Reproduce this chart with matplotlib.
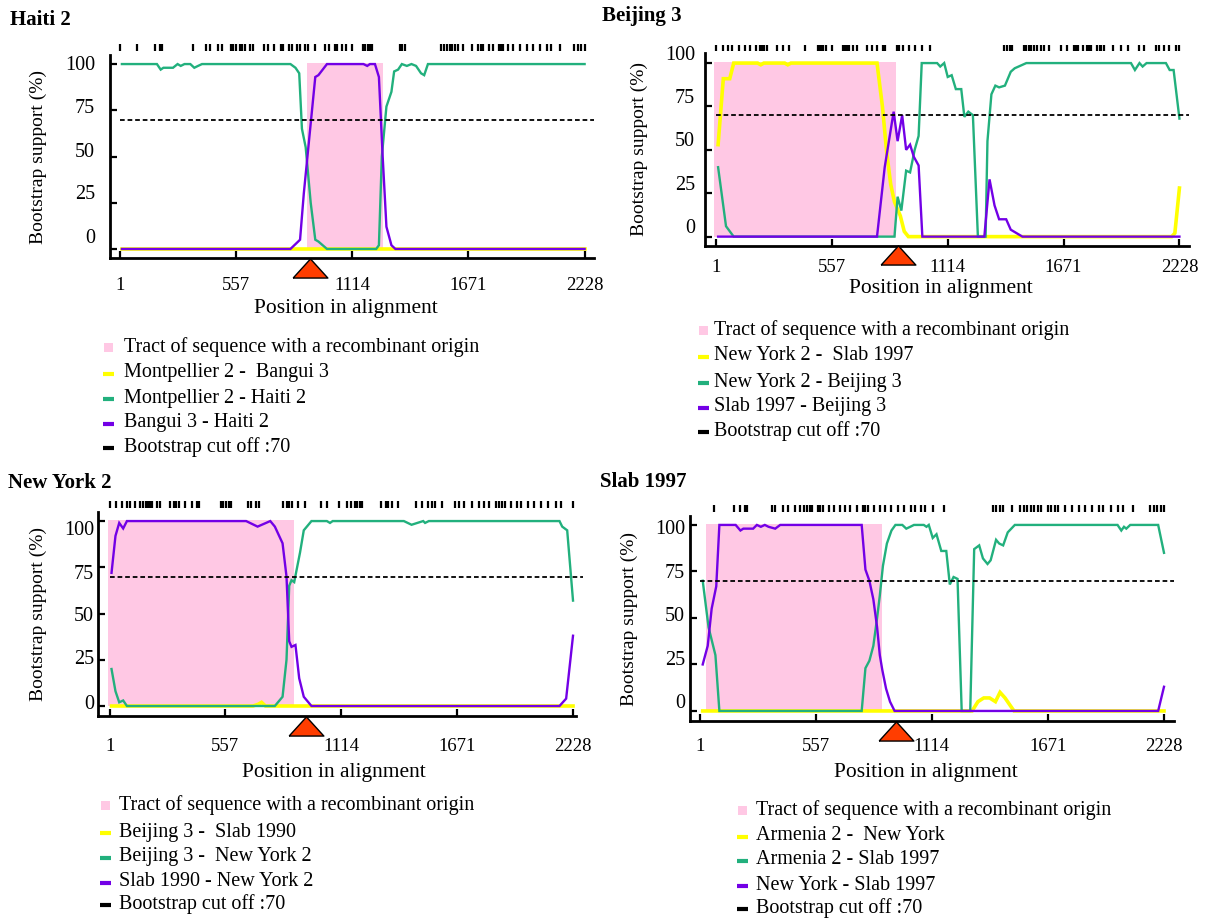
import matplotlib
matplotlib.use("Agg")
import matplotlib.pyplot as plt
from matplotlib.lines import Line2D
from matplotlib.patches import Rectangle

plt.rcParams["font.family"] = ["Liberation Serif", "DejaVu Serif"]

# ---------------- data ----------------
x_ticks = [1, 557, 1114, 1671, 2228]
y_ticks = [0, 25, 50, 75, 100]
cutoff = 70

# Haiti 2
haiti_sites = [1, 81, 168, 192, 204, 351, 413, 433, 470, 490, 531, 544, 557, 577, 588,
               601, 626, 639, 691, 711, 740, 773, 784, 809, 825, 851, 863, 890, 904, 936,
               985, 1002, 1031, 1042, 1067, 1083, 1113, 1165, 1173, 1190, 1201, 1211, 1345,
               1353, 1365, 1541, 1554, 1566, 1582, 1594, 1607, 1620, 1647, 1688, 1718, 1729,
               1741, 1770, 1790, 1816, 1827, 1839, 1860, 1884, 1920, 1950, 1979, 2015, 2048,
               2068, 2110, 2179, 2198, 2211, 2228]
haiti_tract = [895, 1263]
haiti_yellow_x = [10, 2228]
haiti_yellow = [0, 0]
haiti_green_x = [10, 178, 196, 209, 255, 277, 292, 310, 338, 357, 375, 394, 818, 842, 860,
                 873, 891, 915, 937, 952, 993, 1229, 1242, 1256, 1278, 1302, 1315, 1334,
                 1352, 1376, 1398, 1420, 1444, 1459, 1477, 2228]
haiti_green = [100, 100, 97, 98, 98, 100, 99, 100, 100, 98, 99, 100, 100, 98, 95, 65, 55,
               25, 5, 4, 0, 0, 2, 50, 77, 85, 96, 97, 100, 99, 100, 99, 95, 94, 100, 100]
haiti_purple_x = [10, 818, 855, 864, 882, 937, 952, 993, 1168, 1186, 1199, 1223, 1242,
                  1260, 1278, 1302, 1321, 2228]
haiti_purple = [0, 0, 4, 5, 30, 93, 94, 100, 100, 99, 100, 100, 93, 50, 12, 2, 0, 0]
haiti_labels = ["Montpellier 2 -  Bangui 3", "Montpellier 2 - Haiti 2",
                "Bangui 3 - Haiti 2"]

# Beijing 3
beijing_sites = [1, 33, 57, 77, 109, 138, 165, 191, 213, 221, 229, 245, 294, 323, 350,
                 427, 488, 496, 504, 516, 528, 556, 612, 620, 628, 641, 660, 676, 725,
                 749, 773, 802, 813, 869, 882, 901, 930, 958, 990, 1030, 1384, 1400, 1413,
                 1424, 1480, 1491, 1504, 1516, 1529, 1545, 1561, 1577, 1601, 1657, 1689,
                 1722, 1730, 1738, 1762, 1783, 1793, 1802, 1834, 1844, 1850, 1866, 1907,
                 1947, 1979, 2035, 2059, 2116, 2132, 2156, 2180, 2212, 2228]
beijing_tract = [-8, 864]
beijing_yellow_x = [10, 35, 48, 66, 85, 200, 215, 230, 330, 345, 360, 774, 800, 821, 840,
                    858, 886, 905, 925, 2191, 2206, 2228]
beijing_yellow = [53, 91, 91, 91, 100, 100, 99, 100, 100, 99, 100, 100, 75, 48, 30, 20,
                  12, 3, 0, 0, 2, 28]
beijing_green_x = [10, 48, 85, 858, 873, 891, 914, 933, 955, 974, 989, 1063, 1078, 1097,
                   1114, 1133, 1153, 1179, 1194, 1213, 1235, 1259, 1296, 1305, 1324, 1343,
                   1361, 1389, 1417, 1436, 1492, 1995, 2014, 2036, 2051, 2070, 2163, 2181,
                   2200, 2228]
beijing_green = [40, 6, 0, 0, 23, 15, 38, 37, 50, 58, 100, 100, 98, 100, 92, 93, 85, 85,
                 69, 72, 70, 0, 0, 55, 82, 87, 86, 87, 95, 97, 100, 100, 96, 100, 98, 100,
                 100, 96, 96, 68]
beijing_purple_x = [10, 774, 811, 854, 873, 895, 914, 933, 951, 974, 992, 1290, 1315, 1339,
                    1361, 1395, 1417, 1445, 1473, 2228]
beijing_purple = [0, 0, 40, 72, 55, 70, 50, 53, 46, 41, 0, 0, 33, 18, 10, 10, 4, 2, 0, 0]
beijing_labels = ["New York 2 -  Slab 1997", "New York 2 - Beijing 3",
                  "Slab 1997 - Beijing 3"]

# New York 2
newyork_sites = [1, 33, 61, 82, 98, 122, 147, 163, 174, 184, 195, 203, 228, 244, 293, 309,
                 320, 333, 365, 398, 422, 430, 536, 547, 560, 573, 584, 665, 681, 702,
                 719, 835, 852, 863, 876, 908, 941, 1017, 1046, 1103, 1143, 1159, 1179,
                 1192, 1205, 1216, 1305, 1329, 1341, 1357, 1386, 1475, 1500, 1532, 1548,
                 1564, 1597, 1662, 1678, 1702, 1743, 1775, 1799, 1823, 1859, 1872, 1888,
                 1901, 1929, 1961, 1977, 2010, 2042, 2075, 2107, 2148, 2172, 2228]
newyork_tract = [-9, 887]
newyork_yellow_x = [10, 690, 716, 731, 750, 2228]
newyork_yellow = [0, 0, 1, 2, 0, 0]
newyork_green_x = [10, 29, 47, 66, 84, 795, 832, 851, 864, 875, 888, 916, 934, 971, 1045,
                   1060, 1073, 1415, 1452, 1480, 1508, 1517, 1535, 2163, 2176, 2200, 2228]
newyork_green = [20, 8, 2, 3, 0, 0, 5, 25, 65, 68, 67, 83, 95, 100, 100, 99, 100, 100, 98,
                 99, 100, 99, 100, 100, 97, 95, 57]
newyork_purple_x = [10, 29, 47, 66, 84, 657, 712, 773, 795, 832, 851, 864, 875, 894, 912,
                    934, 971, 2163, 2195, 2228]
newyork_purple = [72, 92, 99, 96, 100, 100, 97, 100, 97, 88, 70, 35, 32, 33, 15, 5, 0, 0,
                  4, 38]
newyork_labels = ["Beijing 3 -  Slab 1990", "Beijing 3 -  New York 2",
                  "Slab 1990 - New York 2"]

# Slab 1997
slab_sites = [70, 162, 195, 215, 228, 346, 359, 400, 425, 458, 482, 502, 515, 528, 540,
              568, 579, 589, 622, 646, 671, 695, 720, 753, 781, 794, 807, 834, 867, 891,
              916, 949, 982, 1015, 1031, 1064, 1080, 1121, 1171, 1408, 1424, 1441, 1457,
              1498, 1539, 1556, 1572, 1588, 1605, 1621, 1638, 1670, 1687, 1703, 1720,
              1752, 1785, 1818, 1851, 1884, 1916, 1933, 1974, 2007, 2031, 2080, 2162,
              2179, 2195, 2212, 2228]
slab_tract = [32, 875]
slab_yellow_x = [14, 1307, 1335, 1363, 1391, 1419, 1441, 1465, 1508, 2228]
slab_yellow = [0, 0, 5, 7, 7, 5, 10, 7, 0, 0]
slab_green_x = [14, 42, 75, 94, 777, 795, 814, 833, 851, 864, 879, 898, 920, 939, 972, 991,
                1010, 1028, 1075, 1088, 1099, 1118, 1136, 1159, 1183, 1200, 1218, 1237,
                1257, 1298, 1317, 1341, 1359, 1381, 1396, 1422, 1437, 1456, 1478, 1512,
                2005, 2023, 2036, 2047, 2066, 2200, 2228]
slab_green = [70, 45, 30, 0, 0, 23, 27, 35, 50, 62, 78, 90, 97, 100, 100, 98, 99, 100, 100,
              99, 100, 93, 95, 86, 86, 68, 72, 71, 0, 0, 87, 89, 82, 79, 81, 92, 90, 89,
              96, 100, 100, 97, 99, 98, 100, 100, 85]
slab_purple_x = [14, 38, 57, 79, 94, 172, 195, 209, 256, 274, 293, 312, 330, 362, 386, 777,
                 795, 814, 833, 851, 864, 876, 894, 913, 935, 2200, 2228]
slab_purple = [25, 35, 55, 67, 100, 100, 97, 98, 98, 100, 99, 100, 99, 98, 100, 100, 76, 70,
               60, 45, 30, 22, 12, 5, 0, 0, 13]
slab_labels = ["Armenia 2 -  New York", "Armenia 2 - Slab 1997", "New York - Slab 1997"]

titles = ["Haiti 2", "Beijing 3", "New York 2", "Slab 1997"]
breakpoints = [910, 873, 943, 943]

YELLOW = "#ffff00"
GREEN = "#22b07d"
PURPLE = "#7300e6"
PINK = "#ffc8e4"
TRI = "#ff3d00"

W, H = 1205, 919


def fx(px):
    return px / W


def fy(py):
    return 1 - py / H


fig = plt.figure(figsize=(W / 100, H / 100), dpi=100)

# layout of each panel, in pixels of the original picture
panels = [
    dict(box=(110, 594, 55, 258), xlim=(-47, 2273), ylim=(-4.9, 104.9),
         title=(10, 20), ylab_dx=72, ylab_gap=15, xlab_dy=50, xpad=14,
         ylab_off=[10.7, 8, 3.7, 1.7, -1],
         rows=[347, 373, 398, 423, 447], mark_x=103, text_x=124,
         sites=haiti_sites, tract=haiti_tract,
         lines=[(haiti_yellow_x, haiti_yellow), (haiti_green_x, haiti_green),
                (haiti_purple_x, haiti_purple)], labels=haiti_labels),
    dict(box=(705, 1189, 53, 246), xlim=(-53, 2274), ylim=(-5.4, 105.8),
         title=(602, 16), ylab_dx=66, ylab_gap=10, xlab_dy=43, xpad=9,
         ylab_off=[8, 8, 8, 8, 8],
         rows=[330, 356, 382, 407, 431], mark_x=698, text_x=714,
         sites=beijing_sites, tract=beijing_tract,
         lines=[(beijing_yellow_x, beijing_yellow), (beijing_green_x, beijing_green),
                (beijing_purple_x, beijing_purple)], labels=beijing_labels),
    dict(box=(98, 583, 512, 716), xlim=(-55, 2276), ylim=(-5.4, 104.9),
         title=(8, 483), ylab_dx=60, ylab_gap=4, xlab_dy=57, xpad=16,
         ylab_off=[2, 0, -3.3, -7.3, -9.3],
         rows=[805, 832, 857, 882, 904], mark_x=100, text_x=119,
         sites=newyork_sites, tract=newyork_tract,
         lines=[(newyork_yellow_x, newyork_yellow), (newyork_green_x, newyork_green),
                (newyork_purple_x, newyork_purple)], labels=newyork_labels),
    dict(box=(690, 1174, 516, 721), xlim=(-47, 2276), ylim=(-5.4, 104.8),
         title=(600, 482), ylab_dx=61, ylab_gap=5, xlab_dy=52, xpad=12,
         ylab_off=[7.3, 4.3, 1.7, -2.3, -5],
         rows=[810, 836, 860, 885, 908], mark_x=737, text_x=756,
         sites=slab_sites, tract=slab_tract,
         lines=[(slab_yellow_x, slab_yellow), (slab_green_x, slab_green),
                (slab_purple_x, slab_purple)], labels=slab_labels),
]

tri_marker = [(-1, -0.55), (1, -0.55), (0, 0.55), (-1, -0.55)]

for i, p in enumerate(panels):
    left, right, top, bottom = p["box"]
    ax = fig.add_axes([fx(left), fy(bottom), fx(right - left), (bottom - top) / H])
    ax.set_xlim(*p["xlim"])
    ax.set_ylim(*p["ylim"])
    ax.patch.set_alpha(0)

    # recombinant tract
    ax.fill_between(p["tract"], 0, 100.5, color=PINK, lw=0, zorder=1)

    # bootscan curves
    for (xs, ys), c, lw in zip(p["lines"], [YELLOW, GREEN, PURPLE], [2.6, 1.7, 1.7]):
        ax.plot(xs, ys, color=c, lw=lw, zorder=3, solid_joinstyle="miter")

    # bootstrap cut off
    ax.plot([1, p["xlim"][1]], [cutoff, cutoff], color="black", lw=1.3,
            ls=(0, (2.6, 1.6)), zorder=4, clip_on=False)

    # informative sites
    ax.vlines(p["sites"], 107.2, 110.6, color="black", lw=1.6, clip_on=False)

    # breakpoint marker
    ax.plot([breakpoints[i]], [-0.048], transform=ax.get_xaxis_transform(),
            marker=tri_marker, ms=25, mfc=TRI, mec="black", mew=1.0,
            clip_on=False, zorder=6)

    for s in ["top", "right"]:
        ax.spines[s].set_visible(False)
    for s in ["left", "bottom"]:
        ax.spines[s].set_linewidth(2.0)
    if i == 2:
        ax.spines["bottom"].set_bounds(p["xlim"][0], 2240)

    ax.set_xticks(x_ticks)
    ax.set_xticklabels([str(v) for v in x_ticks], fontsize=13.5)
    ax.tick_params(axis="x", direction="in", length=5, width=1.6, pad=p["xpad"])
    ax.set_yticks(y_ticks)
    ax.set_yticklabels([])
    ax.tick_params(axis="y", direction="in", length=5, width=1.6)
    for v, off in zip(y_ticks, p["ylab_off"]):
        ax.annotate(str(v), xy=(0, v), xycoords=ax.get_yaxis_transform(),
                    xytext=(-p["ylab_gap"] * 0.72, off * 0.72),
                    textcoords="offset points", ha="right", va="center", fontsize=14.5)

    ax.set_ylabel("Bootstrap support (%)", fontsize=14)
    ax.yaxis.set_label_coords(-p["ylab_dx"] / (right - left), 0.5)
    ax.yaxis.label.set_va("center")
    ax.set_xlabel("Position in alignment", fontsize=15.5)
    ax.xaxis.set_label_coords(0.487, -p["xlab_dy"] / (bottom - top))
    ax.xaxis.label.set_va("center")

    # panel title
    fig.text(fx(p["title"][0]), fy(p["title"][1]), titles[i], fontsize=15,
             fontweight="bold", ha="left", va="center")

    # legend, drawn by hand
    texts = ["Tract of sequence with a recombinant origin"] + p["labels"] + \
        ["Bootstrap cut off :70"]
    colors = [None, YELLOW, GREEN, PURPLE, "black"]
    mx = p["mark_x"]
    for row, txt, c in zip(p["rows"], texts, colors):
        if c is None:
            fig.add_artist(Rectangle((fx(mx + 1), fy(row + 5)), 9 / W, 9 / H,
                                     transform=fig.transFigure, color=PINK, lw=0))
        else:
            fig.add_artist(Line2D([fx(mx), fx(mx + 11)], [fy(row + 1), fy(row + 1)],
                                  transform=fig.transFigure, color=c, lw=3,
                                  solid_capstyle="butt"))
        fig.text(fx(p["text_x"]), fy(row), txt, fontsize=14.5, ha="left", va="center")

fig.savefig("out.png", dpi=100)
